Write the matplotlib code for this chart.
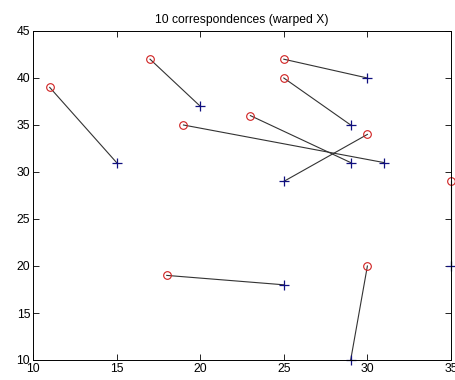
import matplotlib
matplotlib.use("Agg")
import matplotlib.pyplot as plt

# circle points (original) and plus points (warped)
orig_x = [11, 17, 25, 25, 23, 19, 30, 18, 30, 35]
orig_y = [39, 42, 42, 40, 36, 35, 34, 19, 20, 29]
warp_x = [15, 20, 30, 29, 29, 31, 25, 25, 29, 35]
warp_y = [31, 37, 40, 35, 31, 31, 29, 18, 10, 20]

x_ticks = [10, 15, 20, 25, 30, 35]
y_ticks = [10, 15, 20, 25, 30, 35, 40, 45]

plt.rcParams["font.family"] = ["Liberation Sans", "DejaVu Sans"]

fig = plt.figure(figsize=(4.56, 3.8), dpi=100)
ax = fig.add_axes([33 / 456, 20 / 380, 418 / 456, 329 / 380])

for x0, y0, x1, y1 in zip(orig_x, orig_y, warp_x, warp_y):
    ax.plot([x0, x1], [y0, y1], color="#333333", linewidth=0.8, clip_on=False)

ax.plot(orig_x, orig_y, "o", markerfacecolor="none", markeredgecolor="#d02020",
        markersize=5.5, markeredgewidth=0.8, linestyle="none", clip_on=False)
ax.plot(warp_x, warp_y, "+", color="#101080", markersize=6.5,
        markeredgewidth=0.9, linestyle="none", clip_on=False)

ax.set_xlim(10, 35)
ax.set_ylim(10, 45)
ax.set_xticks(x_ticks)
ax.set_yticks(y_ticks)
ax.tick_params(direction="in", top=True, right=True, labelsize=8.8,
               length=4, width=0.6, pad=2)
for s in ax.spines.values():
    s.set_linewidth(0.7)
ax.set_title("10 correspondences (warped X)", fontsize=8.7, pad=6)

fig.savefig("out.png", dpi=100)
